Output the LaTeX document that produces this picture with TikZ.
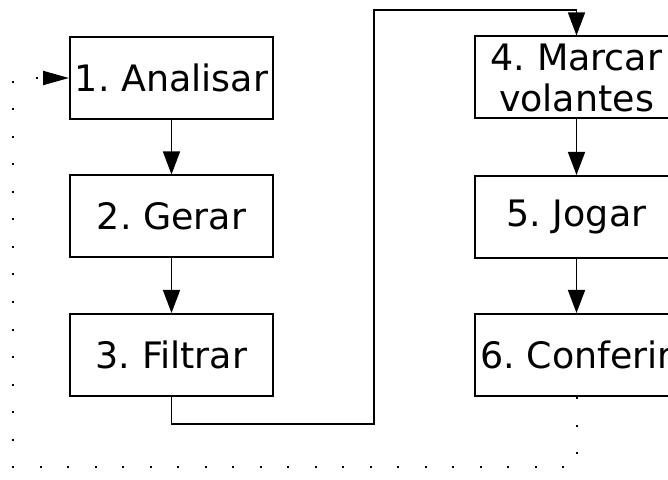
\documentclass[tikz,border=0pt]{standalone}
\usepackage{fontspec}
\setmainfont{DejaVu Sans}
\usetikzlibrary{arrows.meta}
\tikzset{
  stepbox/.style={draw, line width=1pt, rectangle, minimum width=101.5pt, minimum height=41pt, inner sep=0pt, align=center, font=\fontsize{18.2}{20.5}\selectfont\frenchspacing},
  arr/.style={line width=0.75pt, -{Triangle[length=11.5pt,width=8.5pt]}},
  feedback/.style={line width=1pt, dash pattern=on 1pt off 12.75pt, -{Triangle[length=13pt,width=7pt,sep=0pt]}}
}
\begin{document}
\begin{tikzpicture}[x=0.5pt,y=-0.5pt]
\useasboundingbox (0,0) rectangle (668,480);
\clip (0,0) rectangle (668,480);
\node[stepbox] (n1) at (171.5,78) {1. Analisar};
\node[stepbox] (n2) at (171.5,216.5) {2. Gerar};
\node[stepbox] (n3) at (171.5,355) {3. Filtrar};
\node[stepbox] (n4) at (576.5,77.5) {4. Marcar\\volantes};
\node[stepbox] (n5) at (576.5,217) {5. Jogar};
\node[stepbox] (n6) at (576.5,355) {6. Conferir};
\coordinate (c2) at (374,424);
\coordinate (c3) at (374,10);
\coordinate (d1) at (13,467);
\coordinate (d2) at (13,78);
\draw[arr] (n1) -- (n2);
\draw[arr] (n2) -- (n3);
\draw[arr] (n4) -- (n5);
\draw[arr] (n5) -- (n6);
\draw[arr] (n3.south) |- (c2) -- (c3) -| (n4.north);
\draw[feedback] (n6.south) |- (d1) -- (d2) -- (n1.west);
\end{tikzpicture}
\end{document}
